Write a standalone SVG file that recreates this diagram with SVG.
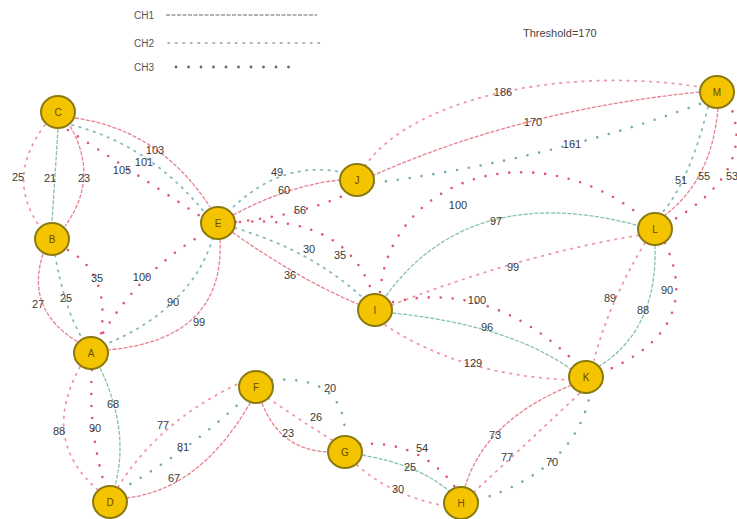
<svg xmlns="http://www.w3.org/2000/svg" width="737" height="519" viewBox="0 0 737 519">
<style>
.bg{fill:#ffffff}
.e{fill:none}
.c1r{stroke:#e8818f;stroke-width:1.3;stroke-dasharray:4 1.5}
.c1g{stroke:#86c2ab;stroke-width:1.3;stroke-dasharray:4 1.5}
.c2r{stroke:#ef97a5;stroke-width:1.8;stroke-dasharray:1.5 6;stroke-linecap:round}
.c2g{stroke:#86b9bb;stroke-width:1.8;stroke-dasharray:1.5 6;stroke-linecap:round}
.c3r{stroke:#e25470;stroke-width:2.6;stroke-dasharray:0 12;stroke-linecap:round}
.c3g{stroke:#74aab0;stroke-width:2.6;stroke-dasharray:0 12;stroke-linecap:round}
.lab{font-family:"Liberation Sans",Arial,sans-serif;font-size:11px;fill:#3a3a3a;text-anchor:middle}
.nd ellipse{fill:#f5c400;stroke:#8a7a10;stroke-width:2}
.nd text{font-family:"Liberation Sans",Arial,sans-serif;font-size:10px;fill:#6a4a00;text-anchor:middle}
.leg{font-family:"Liberation Sans",Arial,sans-serif;font-size:10px;fill:#555}
</style>
<rect class="bg" x="0" y="0" width="737" height="519"/>
<g id="legend">
<text class="leg" x="134" y="19">CH1</text>
<line x1="166" y1="15" x2="317" y2="15" stroke="#999" stroke-width="1.3" stroke-dasharray="4 1.5"/>
<text class="leg" x="134" y="47">CH2</text>
<line x1="168" y1="43" x2="320" y2="43" stroke="#999" stroke-width="1.6" stroke-dasharray="1.5 6" stroke-linecap="round"/>
<text class="leg" x="134" y="71">CH3</text>
<line x1="176" y1="67" x2="300" y2="67" stroke="#666" stroke-width="2.8" stroke-dasharray="0 12.5" stroke-linecap="round"/>
<text class="leg" x="523" y="37" style="font-size:11px;fill:#444">Threshold=170</text>
</g>
<g id="connectors">
<!-- C-B -->
<path class="e c2r" d="M45,125 Q5,178 40,227"/>
<path class="e c1g" d="M58,129 L52,222"/>
<path class="e c1r" d="M70,126 Q100,178 65,226"/>
<!-- C-E -->
<path class="e c1r" d="M75,118 Q160,130 210,207"/>
<path class="e c2g" d="M72,125 Q150,145 205,213"/>
<path class="e c3r" d="M68,130 Q130,170 203,218"/>
<!-- B-A -->
<path class="e c1r" d="M43,254 Q25,310 78,342"/>
<path class="e c2g" d="M55,255 Q65,310 82,338"/>
<path class="e c3r" d="M68,250 Q112,275 100,340"/>
<!-- E-A -->
<path class="e c3r" d="M205,233 Q140,270 100,338"/>
<path class="e c2g" d="M213,238 Q190,310 104,345"/>
<path class="e c1r" d="M220,239 Q225,340 107,350"/>
<!-- E-J -->
<path class="e c2g" d="M228,212 Q280,160 340,172"/>
<path class="e c1r" d="M233,215 Q290,185 340,180"/>
<path class="e c3r" d="M236,222 Q300,215 345,195"/>
<!-- E-I -->
<path class="e c2g" d="M235,228 Q310,250 362,297"/>
<path class="e c1r" d="M232,232 Q300,280 360,305"/>
<path class="e c3r" d="M240,222 Q345,215 372,292"/>
<!-- J-M -->
<path class="e c2r" d="M365,166 C410,100 560,65 700,87"/>
<path class="e c1r" d="M372,176 Q520,110 700,92"/>
<path class="e c3g" d="M374,183 Q550,160 705,102"/>
<!-- M-L -->
<path class="e c2g" d="M708,107 Q690,180 662,213"/>
<path class="e c1r" d="M718,108 Q712,180 664,216"/>
<path class="e c3r" d="M728,100 Q760,170 670,222"/>
<!-- L-K -->
<path class="e c2r" d="M645,243 Q610,300 594,360"/>
<path class="e c1g" d="M655,245 Q658,330 598,367"/>
<path class="e c3r" d="M665,243 Q705,330 603,372"/>
<!-- I-L -->
<path class="e c3r" d="M380,292 C390,180 530,130 640,215"/>
<path class="e c1g" d="M386,296 Q470,180 640,226"/>
<path class="e c2r" d="M392,305 Q520,255 640,235"/>
<!-- I-K -->
<path class="e c3r" d="M393,302 Q490,280 575,362"/>
<path class="e c1g" d="M392,313 Q510,325 572,370"/>
<path class="e c2r" d="M385,325 Q460,375 570,380"/>
<!-- A-D -->
<path class="e c2r" d="M80,367 Q40,440 98,490"/>
<path class="e c3r" d="M92,370 Q88,430 105,486"/>
<path class="e c1g" d="M100,368 Q130,430 115,486"/>
<!-- D-F -->
<path class="e c2r" d="M118,487 Q160,420 240,383"/>
<path class="e c3g" d="M120,490 Q190,450 245,398"/>
<path class="e c1r" d="M126,498 Q200,490 250,403"/>
<!-- F-G -->
<path class="e c3g" d="M272,380 Q345,375 345,435"/>
<path class="e c2r" d="M268,398 Q300,420 332,440"/>
<path class="e c1r" d="M262,403 Q280,450 328,452"/>
<!-- G-H -->
<path class="e c3r" d="M360,444 Q420,440 455,487"/>
<path class="e c1g" d="M362,455 Q420,465 450,492"/>
<path class="e c2r" d="M357,465 Q390,495 445,506"/>
<!-- H-K -->
<path class="e c1r" d="M465,487 Q485,420 572,385"/>
<path class="e c2r" d="M474,492 Q525,445 580,393"/>
<path class="e c3g" d="M478,500 Q575,470 590,394"/>
<!-- labels -->
<text class="lab" x="18" y="181">25</text>
<text class="lab" x="50" y="182">21</text>
<text class="lab" x="84" y="182">23</text>
<text class="lab" x="155" y="154">103</text>
<text class="lab" x="144" y="166">101</text>
<text class="lab" x="122" y="174">105</text>
<text class="lab" x="38" y="308">27</text>
<text class="lab" x="66" y="302">25</text>
<text class="lab" x="97" y="282">35</text>
<text class="lab" x="142" y="281">100</text>
<text class="lab" x="173" y="306">90</text>
<text class="lab" x="199" y="326">99</text>
<text class="lab" x="277" y="176">49</text>
<text class="lab" x="284" y="194">60</text>
<text class="lab" x="300" y="214">56</text>
<text class="lab" x="309" y="253">30</text>
<text class="lab" x="340" y="259">35</text>
<text class="lab" x="290" y="279">36</text>
<text class="lab" x="503" y="96">186</text>
<text class="lab" x="533" y="126">170</text>
<text class="lab" x="572" y="148">161</text>
<text class="lab" x="681" y="184">51</text>
<text class="lab" x="704" y="180">55</text>
<text class="lab" x="732" y="180">53</text>
<text class="lab" x="458" y="209">100</text>
<text class="lab" x="496" y="225">97</text>
<text class="lab" x="513" y="271">99</text>
<text class="lab" x="477" y="304">100</text>
<text class="lab" x="487" y="331">96</text>
<text class="lab" x="473" y="367">129</text>
<text class="lab" x="610" y="302">89</text>
<text class="lab" x="643" y="314">88</text>
<text class="lab" x="667" y="294">90</text>
<text class="lab" x="59" y="435">88</text>
<text class="lab" x="95" y="432">90</text>
<text class="lab" x="113" y="408">68</text>
<text class="lab" x="163" y="429">77</text>
<text class="lab" x="183" y="451">81</text>
<text class="lab" x="174" y="482">67</text>
<text class="lab" x="330" y="392">20</text>
<text class="lab" x="316" y="421">26</text>
<text class="lab" x="288" y="437">23</text>
<text class="lab" x="422" y="452">54</text>
<text class="lab" x="410" y="471">25</text>
<text class="lab" x="398" y="493">30</text>
<text class="lab" x="495" y="439">73</text>
<text class="lab" x="507" y="461">77</text>
<text class="lab" x="552" y="466">70</text>
</g>
<g id="C" class="nd"><ellipse cx="58" cy="112" rx="17" ry="16"/><text x="58" y="116">C</text></g>
<g id="B" class="nd"><ellipse cx="52" cy="239" rx="17" ry="16"/><text x="52" y="243">B</text></g>
<g id="E" class="nd"><ellipse cx="218" cy="223" rx="17" ry="16"/><text x="218" y="227">E</text></g>
<g id="J" class="nd"><ellipse cx="357" cy="180" rx="17" ry="16"/><text x="357" y="184">J</text></g>
<g id="M" class="nd"><ellipse cx="717" cy="92" rx="17" ry="16"/><text x="717" y="96">M</text></g>
<g id="L" class="nd"><ellipse cx="655" cy="229" rx="17" ry="16"/><text x="655" y="233">L</text></g>
<g id="I" class="nd"><ellipse cx="375" cy="310" rx="17" ry="16"/><text x="375" y="314">I</text></g>
<g id="K" class="nd"><ellipse cx="586" cy="377" rx="17" ry="16"/><text x="586" y="381">K</text></g>
<g id="A" class="nd"><ellipse cx="91" cy="353" rx="17" ry="16"/><text x="91" y="357">A</text></g>
<g id="D" class="nd"><ellipse cx="110" cy="502" rx="17" ry="16"/><text x="110" y="506">D</text></g>
<g id="F" class="nd"><ellipse cx="256" cy="387" rx="17" ry="16"/><text x="256" y="391">F</text></g>
<g id="G" class="nd"><ellipse cx="345" cy="452" rx="17" ry="16"/><text x="345" y="456">G</text></g>
<g id="H" class="nd"><ellipse cx="461" cy="503" rx="17" ry="16"/><text x="461" y="507">H</text></g>
</svg>
